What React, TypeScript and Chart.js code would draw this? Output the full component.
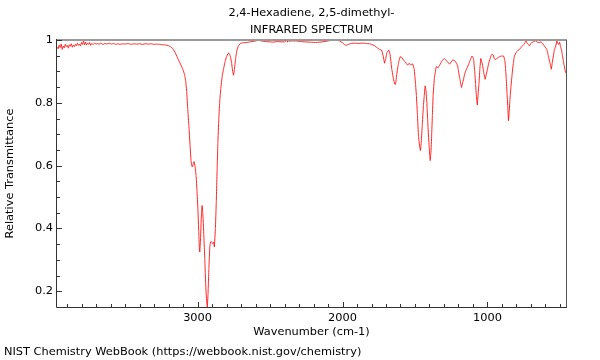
import React, { useEffect, useRef } from "react";
import { Chart, registerables } from "chart.js";

Chart.register(...registerables);

const TITLE_LINES = ["2,4-Hexadiene, 2,5-dimethyl-", "INFRARED SPECTRUM"];
const X_TITLE = "Wavenumber (cm-1)";
const Y_TITLE = "Relative Transmittance";
const FOOTER = "NIST Chemistry WebBook (https://webbook.nist.gov/chemistry)";

const X_MAJOR = [3000, 2000, 1000];
const Y_MAJOR = [0.2, 0.4, 0.6, 0.8, 1];
const X_MINOR_STEP = 100;
const Y_MINOR_STEP = 0.05;
const X_MIN = 458;
const X_MAX = 3970;
const Y_MIN = 0.15;
const Y_MAX = 1.0;

const WAVENUMBER = [
  3970, 3962, 3955, 3948, 3941, 3934, 3927, 3920, 3913, 3906, 3899, 3892, 3885, 3878, 3871, 3864,
  3857, 3850, 3843, 3836, 3829, 3822, 3815, 3808, 3801, 3794, 3787, 3780, 3773, 3766, 3759, 3752,
  3745, 3738, 3731, 3720, 3710, 3700, 3690, 3680, 3670, 3660, 3650, 3640, 3625, 3610, 3595, 3580,
  3565, 3550, 3535, 3520, 3500, 3480, 3460, 3440, 3420, 3400, 3380, 3360, 3340, 3320, 3300, 3280,
  3260, 3240, 3220, 3200, 3185, 3170, 3155, 3140, 3125, 3110, 3100, 3090, 3082, 3075, 3068, 3060,
  3052, 3045, 3040, 3036, 3030, 3024, 3018, 3010, 3004, 2998, 2992, 2988, 2985, 2980, 2975, 2969,
  2964, 2957, 2950, 2944, 2938, 2933, 2928, 2922, 2916, 2911, 2904, 2897, 2890, 2884, 2877, 2871,
  2865, 2860, 2854, 2848, 2840, 2830, 2820, 2810, 2800, 2790, 2783, 2775, 2766, 2758, 2752, 2746,
  2738, 2730, 2720, 2705, 2690, 2660, 2640, 2610, 2580, 2560, 2530, 2500, 2480, 2450, 2420, 2400,
  2390, 2384, 2380, 2376, 2370, 2350, 2320, 2290, 2260, 2220, 2180, 2140, 2100, 2067, 2040, 2020,
  2000, 1985, 1975, 1960, 1940, 1917, 1890, 1860, 1837, 1814, 1800, 1779, 1760, 1745, 1730, 1720,
  1710, 1702, 1694, 1681, 1672, 1660, 1648, 1640, 1634, 1626, 1618, 1610, 1602, 1590, 1578, 1566,
  1558, 1550, 1540, 1530, 1522, 1515, 1505, 1496, 1490, 1483, 1476, 1468, 1462, 1456, 1450, 1442,
  1436, 1430, 1424, 1418, 1410, 1404, 1398, 1395, 1390, 1385, 1380, 1375, 1366, 1360, 1354, 1340,
  1330, 1320, 1310, 1297, 1285, 1275, 1262, 1250, 1239, 1225, 1212, 1205, 1198, 1190, 1182, 1179,
  1172, 1165, 1158, 1150, 1140, 1130, 1124, 1115, 1107, 1100, 1095, 1088, 1082, 1076, 1070, 1064,
  1058, 1052, 1046, 1040, 1033, 1025, 1016, 1008, 1000, 992, 983, 975, 968, 960, 952, 944,
  936, 925, 912, 900, 888, 880, 875, 870, 865, 860, 855, 850, 845, 838, 830, 822,
  814, 800, 790, 779, 765, 750, 740, 734, 726, 718, 710, 702, 694, 680, 669, 655,
  645, 630, 618, 608, 598, 590, 580, 570, 559, 552, 545, 538, 530, 521, 515, 508,
  502, 496, 490, 484, 475, 466, 460,
];

const TRANSMITTANCE = [
  0.978, 0.972, 0.984, 0.976, 0.987, 0.970, 0.981, 0.975, 0.986, 0.979, 0.983, 0.974, 0.985, 0.980, 0.988, 0.977,
  0.984, 0.979, 0.986, 0.982, 0.990, 0.983, 0.987, 0.981, 0.992, 0.986, 0.997, 0.985, 0.993, 0.984, 0.990, 0.986,
  0.992, 0.983, 0.989, 0.986, 0.990, 0.987, 0.989, 0.986, 0.990, 0.988, 0.986, 0.989, 0.987, 0.990, 0.987, 0.989,
  0.986, 0.988, 0.986, 0.988, 0.987, 0.989, 0.986, 0.988, 0.987, 0.988, 0.986, 0.988, 0.987, 0.988, 0.986, 0.987,
  0.986, 0.985, 0.984, 0.982, 0.978, 0.972, 0.960, 0.945, 0.930, 0.915, 0.905, 0.890, 0.870, 0.835, 0.780, 0.727,
  0.665, 0.615, 0.600, 0.596, 0.605, 0.613, 0.600, 0.568, 0.520, 0.463, 0.390, 0.340, 0.325, 0.360, 0.430, 0.473,
  0.450, 0.380, 0.300, 0.220, 0.170, 0.148, 0.190, 0.273, 0.340, 0.357, 0.358, 0.352, 0.356, 0.341, 0.400, 0.484,
  0.590, 0.674, 0.745, 0.800, 0.845, 0.885, 0.910, 0.932, 0.947, 0.957, 0.958, 0.950, 0.930, 0.900, 0.888, 0.905,
  0.940, 0.965, 0.980, 0.989, 0.991, 0.992, 0.994, 0.996, 0.999, 0.997, 0.995, 0.994, 0.993, 0.995, 0.994, 0.994,
  0.997, 1.000, 0.993, 1.000, 0.996, 0.997, 0.997, 0.995, 0.994, 0.993, 0.992, 0.994, 0.997, 1.000, 0.999, 0.997,
  0.991, 0.985, 0.983, 0.986, 0.989, 0.990, 0.989, 0.990, 0.989, 0.988, 0.986, 0.982, 0.975, 0.970, 0.968, 0.950,
  0.926, 0.940, 0.960, 0.968, 0.955, 0.907, 0.875, 0.860, 0.859, 0.890, 0.915, 0.935, 0.947, 0.944, 0.935, 0.930,
  0.924, 0.920, 0.926, 0.920, 0.924, 0.923, 0.907, 0.860, 0.822, 0.760, 0.695, 0.660, 0.648, 0.680, 0.727, 0.790,
  0.822, 0.854, 0.840, 0.800, 0.722, 0.674, 0.630, 0.616, 0.640, 0.695, 0.760, 0.822, 0.880, 0.896, 0.915, 0.912,
  0.920, 0.928, 0.936, 0.941, 0.935, 0.930, 0.923, 0.930, 0.937, 0.934, 0.925, 0.917, 0.895, 0.875, 0.855, 0.849,
  0.862, 0.875, 0.890, 0.902, 0.912, 0.922, 0.930, 0.940, 0.949, 0.945, 0.937, 0.900, 0.860, 0.820, 0.793, 0.830,
  0.864, 0.910, 0.941, 0.932, 0.918, 0.895, 0.875, 0.890, 0.907, 0.925, 0.939, 0.950, 0.955, 0.952, 0.940, 0.938,
  0.941, 0.945, 0.948, 0.949, 0.949, 0.935, 0.910, 0.875, 0.830, 0.790, 0.743, 0.770, 0.810, 0.850, 0.890, 0.925,
  0.949, 0.962, 0.967, 0.970, 0.978, 0.985, 0.992, 0.997, 0.990, 0.986, 0.981, 0.988, 0.992, 0.995, 0.997, 0.993,
  0.992, 0.994, 0.988, 0.981, 0.975, 0.970, 0.950, 0.930, 0.907, 0.930, 0.949, 0.970, 0.978, 0.997, 0.990, 0.986,
  0.993, 0.980, 0.970, 0.955, 0.930, 0.907, 0.895,
];

const FONT_FAMILY = "'DejaVu Sans', sans-serif";
const FONT_SIZE = 11.35;

function isMajor(list: number[], v: number) {
  return list.some((m) => Math.abs(m - v) < 1e-6);
}

const framePlugin = {
  id: "frame",
  afterDraw(chart: any) {
    const { ctx, chartArea } = chart;
    const { left, right, top, bottom } = chartArea;
    const xs = chart.scales.x;
    const ys = chart.scales.y;
    ctx.save();
    // top border
    ctx.strokeStyle = "#9a9a9a";
    ctx.lineWidth = 2;
    ctx.beginPath();
    ctx.moveTo(left, top);
    ctx.lineTo(right + 1, top);
    ctx.stroke();
    // right border
    ctx.strokeStyle = "#555555";
    ctx.lineWidth = 1;
    ctx.beginPath();
    ctx.moveTo(Math.round(right) + 0.5, top);
    ctx.lineTo(Math.round(right) + 0.5, bottom);
    ctx.stroke();
    // left & bottom axes
    ctx.strokeStyle = "#333333";
    ctx.beginPath();
    ctx.moveTo(Math.round(left) - 0.5, top - 1);
    ctx.lineTo(Math.round(left) - 0.5, Math.round(bottom) + 0.5);
    ctx.lineTo(Math.round(right) + 1, Math.round(bottom) + 0.5);
    ctx.stroke();
    // inward ticks
    ctx.beginPath();
    for (const t of xs.ticks) {
      const px = Math.round(xs.getPixelForValue(t.value)) + 0.5;
      const len = isMajor(X_MAJOR, t.value) ? 5 : 3;
      ctx.moveTo(px, Math.round(bottom));
      ctx.lineTo(px, Math.round(bottom) - len);
    }
    for (const t of ys.ticks) {
      const py = Math.round(ys.getPixelForValue(t.value)) + 0.5;
      const len = isMajor(Y_MAJOR, t.value) ? 5 : 3;
      ctx.moveTo(Math.round(left), py);
      ctx.lineTo(Math.round(left) + len, py);
    }
    ctx.stroke();
    // footer
    ctx.fillStyle = "#000";
    ctx.font = `${FONT_SIZE}px ${FONT_FAMILY}`;
    ctx.textAlign = "left";
    ctx.textBaseline = "middle";
    ctx.fillText(FOOTER, 4, 352);
    ctx.restore();
  },
};

export default function App() {
  const ref = useRef<HTMLCanvasElement>(null);
  useEffect(() => {
    if (!ref.current) return;
    const font = { family: FONT_FAMILY, size: FONT_SIZE };
    const xTicks: number[] = [];
    for (let v = Math.ceil(X_MIN / X_MINOR_STEP) * X_MINOR_STEP; v <= X_MAX; v += X_MINOR_STEP) xTicks.push(v);
    const yTicks: number[] = [];
    for (let k = Math.ceil(Y_MIN / Y_MINOR_STEP - 1e-9); k * Y_MINOR_STEP <= Y_MAX + 1e-9; k++)
      yTicks.push(Math.round(k * Y_MINOR_STEP * 100) / 100);
    const chart = new Chart(ref.current, {
      type: "line",
      data: {
        datasets: [
          {
            data: WAVENUMBER.map((x, i) => ({ x, y: TRANSMITTANCE[i] })),
            borderColor: "rgba(255,0,0,0.85)",
            borderWidth: 1,
            pointRadius: 0,
            tension: 0.0001,
            fill: false,
          },
        ],
      },
      options: {
        responsive: false,
        animation: false,
        devicePixelRatio: 1,
        layout: { padding: { left: 0, right: 34, top: 0, bottom: 15 } },
        plugins: {
          legend: { display: false },
          tooltip: { enabled: false },
          title: {
            display: true,
            text: TITLE_LINES,
            fullSize: false,
            color: "#000",
            font: { family: FONT_FAMILY, size: FONT_SIZE, weight: "normal", lineHeight: "17px" },
            padding: { top: 5, bottom: 1 },
          },
        },
        scales: {
          x: {
            type: "linear",
            reverse: true,
            min: X_MIN,
            max: X_MAX,
            afterBuildTicks: (s: any) => {
              s.ticks = xTicks.map((value) => ({ value }));
            },
            afterFit: (s: any) => {
              s.height = 38;
            },
            grid: { display: false, drawTicks: false },
            border: { display: false },
            ticks: {
              autoSkip: false,
              maxRotation: 0,
              padding: 4,
              color: "#000",
              font,
              callback: (v: any) => (isMajor(X_MAJOR, Number(v)) ? String(v) : ""),
            },
            title: {
              display: true,
              text: X_TITLE,
              color: "#000",
              font: { ...font, lineHeight: "13px" },
              padding: { top: 0, bottom: 6.5 },
            },
          },
          y: {
            type: "linear",
            min: Y_MIN,
            max: Y_MAX,
            afterBuildTicks: (s: any) => {
              s.ticks = yTicks.map((value) => ({ value }));
            },
            afterFit: (s: any) => {
              s.width = 57;
            },
            grid: { display: false, drawTicks: false },
            border: { display: false },
            ticks: {
              autoSkip: false,
              padding: 4,
              color: "#000",
              font,
              callback: (v: any) => {
                const n = Number(v);
                return isMajor(Y_MAJOR, n) ? String(Math.round(n * 10) / 10) : "";
              },
            },
            title: {
              display: true,
              text: Y_TITLE,
              color: "#000",
              font: { ...font, lineHeight: "13px" },
              padding: { top: 3.5, bottom: 0 },
            },
          },
        },
      },
      plugins: [framePlugin],
    });
    return () => chart.destroy();
  }, []);
  return (
    <div style={{ position: "absolute", left: 0, top: 0, width: 600, height: 360, background: "#fff" }}>
      <canvas ref={ref} width={600} height={360} />
    </div>
  );
}
